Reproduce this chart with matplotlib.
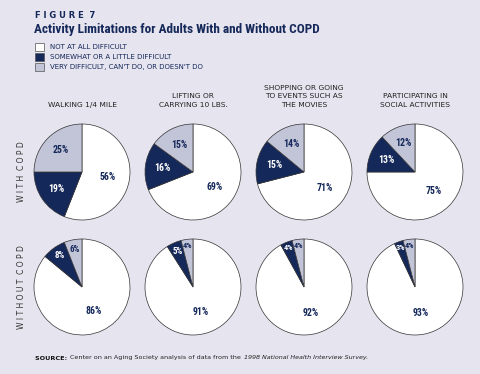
import matplotlib
matplotlib.use('Agg')
import matplotlib.pyplot as plt
from matplotlib.patches import Rectangle
import numpy as np

# data
activities = ['WALKING 1/4 MILE', 'LIFTING OR\nCARRYING 10 LBS.',
              'SHOPPING OR GOING\nTO EVENTS SUCH AS\nTHE MOVIES',
              'PARTICIPATING IN\nSOCIAL ACTIVITIES']
groups = ['WITH COPD', 'WITHOUT COPD']
categories = ['NOT AT ALL DIFFICULT', 'SOMEWHAT OR A LITTLE DIFFICULT',
              "VERY DIFFICULT, CAN'T DO, OR DOESN'T DO"]
with_copd = [[56, 19, 25], [69, 16, 15], [71, 15, 14], [75, 13, 12]]
without_copd = [[86, 8, 6], [91, 5, 4], [92, 4, 4], [93, 3, 4]]

BG = '#e6e4ee'
NAVY = '#15285a'
GREY = '#c2c4d7'
colors = ['white', NAVY, GREY]
text_colors = [NAVY, 'white', NAVY]
NARROW = ['Roboto Condensed', 'Roboto', 'DejaVu Sans']

W, H = 480, 374
fig = plt.figure(figsize=(W / 100, H / 100), dpi=100)
fig.patch.set_facecolor(BG)
plt.rcParams['font.family'] = ['DejaVu Sans']


def px(x, y):
    return x / W, 1 - y / H


fig.text(*px(35, 15), 'F I G U R E  7', fontsize=6, fontweight='bold',
         color=NAVY, va='center')
fig.text(*px(34, 29), 'Activity Limitations for Adults With and Without COPD',
         fontsize=9.5, fontweight='bold', color=NAVY, va='center', family=NARROW)

# legend
for i, (lab, c) in enumerate(zip(categories, colors)):
    x0, y0 = px(35, 51 + 10 * i)
    fig.patches.append(Rectangle((x0, y0), 9 / W, 8 / H, transform=fig.transFigure,
                                 facecolor=c, edgecolor='#555555', linewidth=0.5))
    fig.text(*px(50, 47 + 10 * i), lab, fontsize=5, color=NAVY, va='center')

cx = [82, 193, 304, 415]
cy = [172, 287]
R = 48

for j, act in enumerate(activities):
    fig.text(*px(cx[j], 108), act, fontsize=5.4, color='#222222', ha='center',
             va='bottom', linespacing=1.5)

for i, (grp, data) in enumerate(zip(groups, [with_copd, without_copd])):
    fig.text(*px(22, cy[i]), ' '.join(grp).replace('   ', '  '), fontsize=5.5,
             color='#333333', rotation=90, ha='center', va='center')
    for j in range(4):
        size = 2 * R + 4
        l, b = px(cx[j] - size / 2, cy[i] + size / 2)
        ax = fig.add_axes([l, b, size / W, size / H])
        wedges, _ = ax.pie(data[j], colors=colors, startangle=90, counterclock=False,
                           wedgeprops=dict(edgecolor='#333333', linewidth=0.5))
        lim = size / 2 / R
        ax.set_xlim(-lim, lim)
        ax.set_ylim(-lim, lim)
        ax.set_aspect('equal')
        ax.axis('off')
        for k, w in enumerate(wedges):
            v = data[j][k]
            if v > 50:
                d, fs = 0.55, 7
            elif v >= 10:
                d, fs = 0.64, 7
            elif v >= 5:
                d, fs = 0.8, 6.5
            else:
                d, fs = 0.88, 6
            ang = np.deg2rad((w.theta1 + w.theta2) / 2)
            ax.text(d * np.cos(ang), d * np.sin(ang), f'{v}%', fontsize=fs,
                    fontweight='bold', color=text_colors[k], ha='center', va='center',
                    family=NARROW)

# source line, pieces chained one after another
fig.canvas.draw()
r = fig.canvas.get_renderer()
x = 35 / W
for txt, kw in [('SOURCE: ', dict(fontweight='bold', color='#111111')),
                ('Center on an Aging Society analysis of data from the ', dict(color='#222222')),
                ('1998 National Health Interview Survey.', dict(style='italic', color='#222222'))]:
    t = fig.text(x, 1 - 358 / H, txt, fontsize=4.6, va='center', **kw)
    bb = t.get_window_extent(r)
    x = bb.x1 / W + 1 / W

fig.savefig('out.png', dpi=100, facecolor=BG)
